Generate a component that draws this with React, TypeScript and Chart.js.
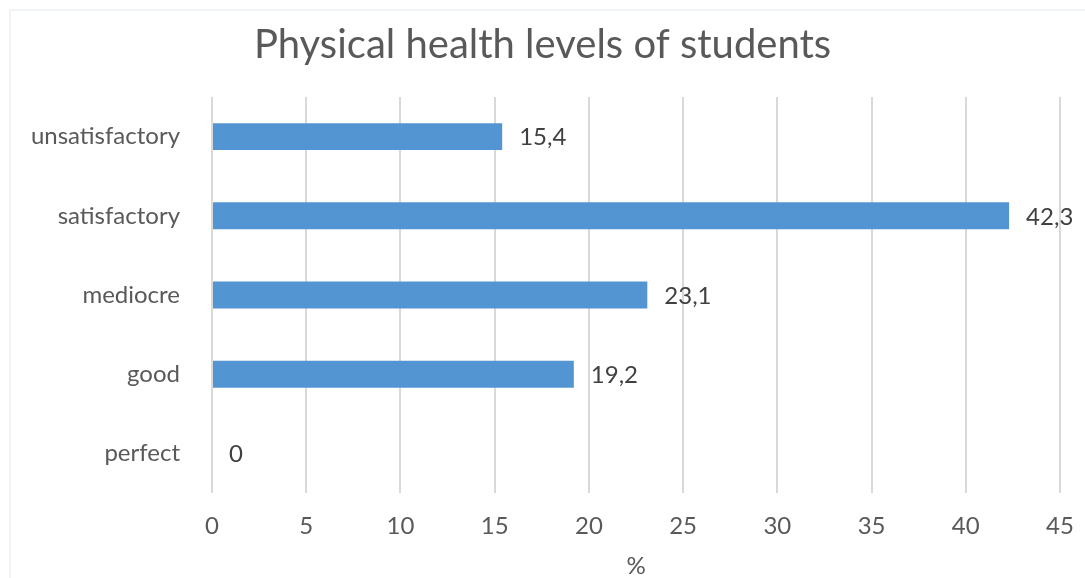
import React, { useEffect, useRef } from "react";
import { Chart, registerables } from "chart.js";

Chart.register(...registerables);

const categories: string[] = ["unsatisfactory", "satisfactory", "mediocre", "good", "perfect"];
const percentages: number[] = [15.4, 42.3, 23.1, 19.2, 0];
const xTickValues: number[] = [0, 5, 10, 15, 20, 25, 30, 35, 40, 45];

const titleText = "Physical health levels of students";
const xAxisTitle = "%";

const FONT = "Lato, 'Open Sans', sans-serif";
const BAR_COLOR = "#5394d3";
const LABEL_SIZE = 24;

// Comma as decimal separator for the value labels
const formatValue = (v: number) => String(v).replace(".", ",");

const valueLabels = {
  id: "valueLabels",
  afterDatasetsDraw(chart: Chart) {
    const { ctx } = chart;
    const meta = chart.getDatasetMeta(0);
    ctx.save();
    ctx.font = `${LABEL_SIZE}px ${FONT}`;
    ctx.fillStyle = "#404040";
    ctx.textAlign = "left";
    ctx.textBaseline = "middle";
    meta.data.forEach((el: any, i: number) => {
      const v = percentages[i];
      ctx.fillText(formatValue(v), el.x + 17, el.y + 1);
    });
    ctx.restore();
  },
};

const frame = {
  id: "frame",
  beforeDraw(chart: Chart) {
    const { ctx, width, height } = chart;
    ctx.save();
    ctx.fillStyle = "#ffffff";
    ctx.fillRect(0, 0, width, height);
    ctx.strokeStyle = "#f1f4f7";
    ctx.lineWidth = 2;
    ctx.beginPath();
    ctx.moveTo(10, height);
    ctx.lineTo(10, 10);
    ctx.lineTo(width, 10);
    ctx.stroke();
    ctx.restore();
  },
};

export default function App() {
  const canvasRef = useRef<HTMLCanvasElement | null>(null);

  useEffect(() => {
    const canvas = canvasRef.current;
    if (!canvas) return;
    const chart = new Chart(canvas, {
      type: "bar",
      data: {
        labels: categories,
        datasets: [
          {
            data: percentages,
            backgroundColor: BAR_COLOR,
            borderWidth: 0,
            barPercentage: 0.34,
            categoryPercentage: 1,
          },
        ],
      },
      options: {
        indexAxis: "y",
        responsive: false,
        animation: false,
        layout: { padding: 0 },
        plugins: {
          legend: { display: false },
          tooltip: { enabled: false },
          title: {
            display: true,
            text: titleText,
            color: "#595959",
            font: { family: FONT, size: 40, weight: "normal", lineHeight: 1.2 },
            padding: { top: 21, bottom: 28 },
          },
        },
        scales: {
          x: {
            type: "linear",
            min: 0,
            max: 45,
            afterBuildTicks: (scale: any) => {
              scale.ticks = xTickValues.map((v) => ({ value: v }));
            },
            afterFit: (scale: any) => {
              scale.height = 85;
              scale.paddingLeft = 0;
              scale.paddingRight = 25;
            },
            grid: {
              color: "#d9d9d9",
              lineWidth: 2,
              drawTicks: false,
            },
            border: { display: false },
            ticks: {
              color: "#595959",
              font: { family: FONT, size: LABEL_SIZE },
              padding: 19,
            },
            title: {
              display: true,
              text: xAxisTitle,
              color: "#595959",
              font: { family: FONT, size: LABEL_SIZE, lineHeight: 1.0 },
              padding: { top: 0, bottom: 0 },
            },
          },
          y: {
            type: "category",
            afterFit: (scale: any) => {
              scale.width = 212;
            },
            grid: { display: false, drawTicks: false },
            border: { display: false },
            ticks: {
              color: "#595959",
              font: { family: FONT, size: LABEL_SIZE },
              padding: 32,
            },
          },
        },
      },
      plugins: [frame, valueLabels],
    });
    return () => chart.destroy();
  }, []);

  return (
    <div style={{ position: "fixed", left: 0, top: 0, width: 1085, height: 578, background: "#fff" }}>
      <canvas ref={canvasRef} width={1085} height={578} style={{ display: "block" }} />
    </div>
  );
}
